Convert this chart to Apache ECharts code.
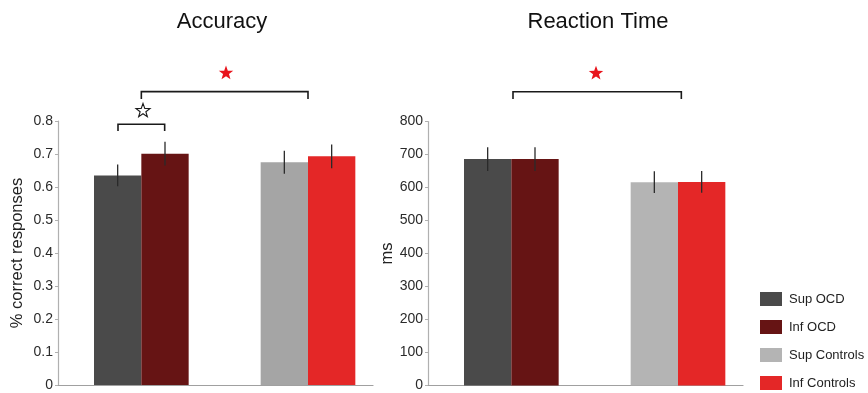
<!DOCTYPE html>
<html>
<head>
<meta charset="utf-8">
<script src="https://cdn.jsdelivr.net/npm/echarts@6/dist/echarts.min.js"></script>
<style>
  html, body { margin: 0; padding: 0; background: #fff; }
  #chart { width: 868px; height: 393px; }
</style>
</head>
<body>
<div id="chart"></div>
<script>
// Groups on the x axis (group index 0 = OCD, 1 = Controls)
const groups = ['OCD', 'Controls'];
// Conditions, in legend order: Sup/Inf for each group
const conditions = ['Sup OCD', 'Inf OCD', 'Sup Controls', 'Inf Controls'];
const conditionGroup = [0, 0, 1, 1];

// Accuracy (proportion correct) with standard errors
const accuracyMean = [0.635, 0.701, 0.675, 0.693];
const accuracyErr = [0.033, 0.036, 0.035, 0.036];

// Reaction time (ms) with standard errors
const rtMean = [686, 686, 616, 617];
const rtErr = [36, 36, 33, 33];

// Y axis ticks
const accuracyTicks = { min: 0, max: 0.8, step: 0.1 };
const rtTicks = { min: 0, max: 800, step: 100 };

// Significance brackets: [fromX, toX, level, tickDrop] in axis units
const accuracyBrackets = [[-0.14, 0.14, 0.79, 0.02], [0, 1, 0.889, 0.022]];
const rtBrackets = [[0.01, 1.02, 890, 22]];
// Stars: [x, level, filled]
const accuracyStars = [[0.01, 0.831, 0], [0.508, 0.945, 1]];
const rtStars = [[0.508, 946, 1]];

const colorsRT = ['#4a4a4a', '#661414', '#b4b4b4', '#e42727'];
const colorsAcc = ['#4a4a4a', '#661414', '#a5a5a5', '#e42727'];

const FONT = '"Liberation Sans", Arial, Helvetica, sans-serif';
const BAR_FRACTION = 0.284; // bar width as a fraction of the group spacing

function barSeries(name, gridIdx, cond, mean, err, color) {
  return {
    type: 'custom',
    name: name,
    xAxisIndex: gridIdx,
    yAxisIndex: gridIdx,
    itemStyle: { color: color },
    clip: false,
    data: [[conditionGroup[cond], mean, err]],
    encode: { x: 0, y: 1 },
    renderItem: function (params, api) {
      const g = api.value(0), v = api.value(1), e = api.value(2);
      const unit = api.size([1, 0])[0];
      const bw = unit * BAR_FRACTION;
      const base = api.coord([g, 0]);
      const top = api.coord([g, v]);
      const side = cond % 2; // 0: left of group centre, 1: right
      const x0 = base[0] - (side === 0 ? bw : 0);
      const cx = x0 + bw / 2;
      const hi = api.coord([g, v + e])[1];
      const lo = api.coord([g, v - e])[1];
      return {
        type: 'group',
        children: [
          { type: 'rect', shape: { x: x0, y: top[1], width: bw, height: base[1] - top[1] },
            style: { fill: api.visual('color') } },
          { type: 'line', shape: { x1: cx, y1: hi, x2: cx, y2: lo },
            style: { stroke: '#2a2a2a', lineWidth: 1.3 } }
        ]
      };
    }
  };
}

function starPoints(cx, cy, rOut, rIn) {
  const pts = [];
  for (let k = 0; k < 10; k++) {
    const r = k % 2 === 0 ? rOut : rIn;
    const a = -Math.PI / 2 + k * Math.PI / 5;
    pts.push([cx + r * Math.cos(a), cy + r * Math.sin(a)]);
  }
  return pts;
}

function annotationSeries(gridIdx, brackets, stars) {
  const items = brackets.map(b => ['b', b[0], b[1], b[2], b[3]])
    .concat(stars.map(s => ['s', s[0], s[1], s[2], 0]));
  return {
    type: 'custom',
    xAxisIndex: gridIdx,
    yAxisIndex: gridIdx,
    clip: false,
    silent: true,
    data: items.map((it, i) => [i]),
    renderItem: function (params, api) {
      const it = items[params.dataIndex];
      if (it[0] === 'b') {
        const p1 = api.coord([it[1], it[3]]);
        const p2 = api.coord([it[2], it[3]]);
        const yd = api.coord([it[1], it[3] - it[4]])[1];
        return {
          type: 'polyline',
          shape: { points: [[p1[0], yd], [p1[0], p1[1]], [p2[0], p2[1]], [p2[0], yd]] },
          style: { stroke: '#1a1a1a', lineWidth: 1.6, fill: null }
        };
      }
      const c = api.coord([it[1], it[2]]);
      const filled = it[3] === 1;
      return {
        type: 'polygon',
        shape: { points: starPoints(c[0], c[1], filled ? 7.6 : 7.4, filled ? 3.1 : 3.0) },
        style: filled ? { fill: '#e8141c', stroke: null }
                      : { fill: '#fff', stroke: '#1a1a1a', lineWidth: 1.1 }
      };
    }
  };
}

function makeXAxis(gridIdx) {
  return {
    type: 'value', gridIndex: gridIdx, min: -0.5, max: 1.39,
    axisLine: { show: true, onZero: false, lineStyle: { color: '#a0a0a0', width: 1.2 } },
    axisTick: { show: false }, axisLabel: { show: false }, splitLine: { show: false }
  };
}

function makeYAxis(gridIdx, ticks, name) {
  return {
    type: 'value', gridIndex: gridIdx,
    min: ticks.min, max: ticks.max, interval: ticks.step,
    name: name, nameLocation: 'middle', nameGap: 32, nameRotate: 90,
    nameTextStyle: { fontFamily: FONT, fontSize: 16.5, color: '#222' },
    axisLine: { show: true, onZero: false, lineStyle: { color: '#b0b0b0', width: 1.2 } },
    axisTick: { show: true, length: 3, lineStyle: { color: '#b0b0b0' } },
    axisLabel: { fontFamily: FONT, fontSize: 14, color: '#2a2a2a', margin: 5 },
    splitLine: { show: false }
  };
}

const series = [];
conditions.forEach((c, i) => series.push(barSeries(c, 1, i, rtMean[i], rtErr[i], colorsRT[i])));
conditions.forEach((c, i) => series.push(barSeries(c, 0, i, accuracyMean[i], accuracyErr[i], colorsAcc[i])));
series.push(annotationSeries(0, accuracyBrackets, accuracyStars));
series.push(annotationSeries(1, rtBrackets, rtStars));

const chart = echarts.init(document.getElementById('chart'), null, { renderer: 'canvas' });
chart.setOption({
  animation: false,
  backgroundColor: '#ffffff',
  grid: [
    { left: 58, top: 121, width: 315, height: 264 },
    { left: 428, top: 121.5, width: 315, height: 264 }
  ],
  xAxis: [makeXAxis(0), makeXAxis(1)],
  yAxis: [makeYAxis(0, accuracyTicks, '% correct responses'), makeYAxis(1, rtTicks, 'ms')],
  legend: {
    data: conditions.map(c => ({ name: c, icon: 'rect' })),
    orient: 'vertical', left: 760, top: 292, padding: 0,
    height: 100,
    itemWidth: 22, itemHeight: 14, itemGap: 14,
    selectedMode: false,
    textStyle: { fontFamily: FONT, fontSize: 13, color: '#222', padding: [0, 0, 0, 2] }
  },
  graphic: [
    { type: 'text', x: 222, y: 11, style: { text: 'Accuracy', align: 'center', verticalAlign: 'top',
      font: '22px ' + FONT, fill: '#111' } },
    { type: 'text', x: 598, y: 11, style: { text: 'Reaction Time', align: 'center', verticalAlign: 'top',
      font: '22px ' + FONT, fill: '#111' } }
  ],
  series: series
});
</script>
</body>
</html>
